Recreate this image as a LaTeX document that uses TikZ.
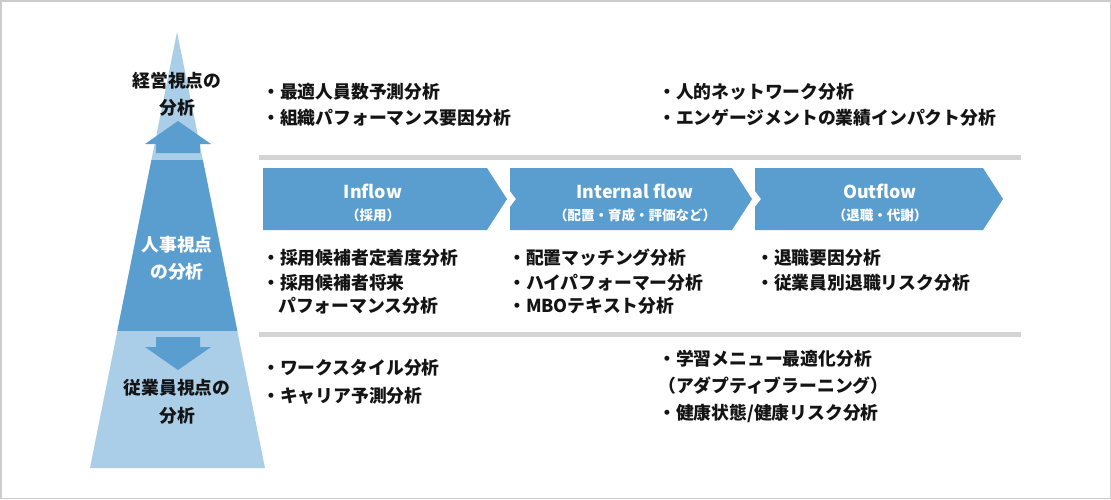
\documentclass[tikz,border=0pt]{standalone}
\usepackage{fontspec}
\setmainfont{Noto Sans CJK JP}
\definecolor{dblue}{RGB}{90,158,207}
\definecolor{lblue}{RGB}{171,206,232}
\definecolor{sepgray}{RGB}{212,212,212}
\definecolor{bordergray}{RGB}{204,204,204}
\definecolor{ink}{RGB}{20,20,20}
\tikzset{
  txt/.style={anchor=west, inner sep=0pt, text=ink, font=\fontsize{17.8}{21}\selectfont\bfseries},
  lbl/.style={inner sep=0pt, align=center, font=\fontsize{17.8}{21}\selectfont\bfseries},
  chevtitle/.style={inner sep=0pt, text=white, font=\fontsize{17.8}{21}\selectfont\bfseries},
  chevsub/.style={inner sep=0pt, text=white, font=\fontsize{13.5}{16}\selectfont\bfseries},
  sepline/.style={draw=sepgray, line width=5pt},
  chevron/.style={fill=dblue, draw=none}
}
\begin{document}
\begin{tikzpicture}[x=1pt,y=-1pt]
\useasboundingbox (0,0) rectangle (1111,499);
\fill[white] (0,0) rectangle (1111,499);
\draw[bordergray, line width=1.5pt] (0.75,0.75) rectangle (1110.25,498.25);

% pyramid
\fill[lblue] (177,32) -- (265,468) -- (90,468) -- cycle;
\begin{scope}
  \clip (177,32) -- (265,468) -- (90,468) -- cycle;
  \fill[dblue] (80,160) rectangle (280,331);
  \fill[dblue] (156,153) rectangle (200,143);
\end{scope}
% up arrow
\fill[dblue] (156,153) -- (156,144) -- (145,144) -- (178,121) -- (211,144) -- (200,144) -- (200,153) -- cycle;
% down arrow
\fill[dblue] (156,337) -- (200,337) -- (200,347) -- (211,347) -- (178,370) -- (145,347) -- (156,347) -- cycle;

\node[lbl, text=ink] (mgmt1) at (177,81) {経営視点の};
\node[lbl, text=ink] (mgmt2) at (177,108) {分析};
\node[lbl, text=white] (hr1) at (177,245) {人事視点};
\node[lbl, text=white] (hr2) at (177,272) {の分析};
\node[lbl, text=ink] (emp1) at (177,388) {従業員視点の};
\node[lbl, text=ink] (emp2) at (177,416) {分析};

% separators
\coordinate (s1a) at (259,157.5);
\coordinate (s1b) at (1021,157.5);
\coordinate (s2a) at (259,334);
\coordinate (s2b) at (1021,334);
\draw[sepline] (s1a) -- (s1b);
\draw[sepline] (s2a) -- (s2b);

% chevrons
\fill[chevron] (263,168) -- (487,168) -- (507,199) -- (487,230) -- (263,230) -- cycle;
\fill[chevron] (510,168) -- (732,168) -- (752,199) -- (732,230) -- (510,230) -- (510,207) -- (516,199) -- (510,191) -- cycle;
\fill[chevron] (755,168) -- (983,168) -- (1003,199) -- (983,230) -- (755,230) -- (755,207) -- (761,199) -- (755,191) -- cycle;

\node[chevtitle] (inflow) at (373,191) {Inflow};
\node[chevsub] (inflowsub) at (373,215) {（採用）};
\node[chevtitle] (internal) at (635,191) {Internal flow};
\node[chevsub] (internalsub) at (635,215) {（配置・育成・評価など）};
\node[chevtitle] (outflow) at (880,191) {Outflow};
\node[chevsub] (outflowsub) at (880,215) {（退職・代謝）};

% top items
\node[txt] (t1) at (262,92) {・最適人員数予測分析};
\node[txt] (t2) at (262,118) {・組織パフォーマンス要因分析};
\node[txt] (t3) at (658,92) {・人的ネットワーク分析};
\node[txt] (t4) at (658,118) {・エンゲージメントの業績インパクト分析};

% middle items
\node[txt] (m1) at (262,258) {・採用候補者定着度分析};
\node[txt] (m2) at (262,283) {・採用候補者将来};
\node[txt] (m3) at (278,306) {パフォーマンス分析};
\node[txt] (m4) at (508,258) {・配置マッチング分析};
\node[txt] (m5) at (508,283) {・ハイパフォーマー分析};
\node[txt] (m6) at (508,306) {・MBOテキスト分析};
\node[txt] (m7) at (756,258) {・退職要因分析};
\node[txt] (m8) at (756,283) {・従業員別退職リスク分析};

% bottom items
\node[txt] (b1) at (262,368) {・ワークスタイル分析};
\node[txt] (b2) at (262,396) {・キャリア予測分析};
\node[txt] (b3) at (658,359) {・学習メニュー最適化分析};
\node[txt] (b4) at (658,386) {（アダプティブラーニング）};
\node[txt] (b5) at (658,413) {・健康状態/健康リスク分析};
\end{tikzpicture}
\end{document}
